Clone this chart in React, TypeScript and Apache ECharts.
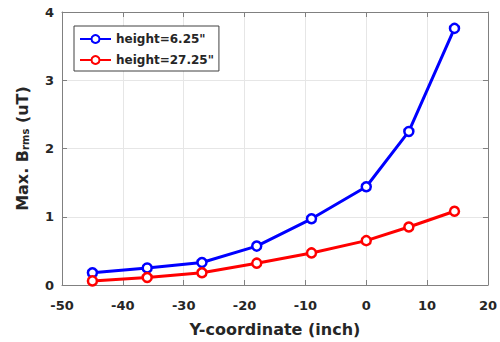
import React, { useEffect, useRef } from "react";
import * as echarts from "echarts";

const xValues = [-45, -36, -27, -18, -9, 0, 7, 14.5];
const blueValues = [0.18, 0.25, 0.33, 0.57, 0.97, 1.44, 2.25, 3.76];
const redValues = [0.06, 0.11, 0.18, 0.32, 0.47, 0.65, 0.85, 1.08];
const seriesNames = ['height=6.25"', 'height=27.25"'];

const FONT = "DejaVu Sans, sans-serif";
const TXT = "#262626";
const FRAME = "#808080";

export default function App() {
  const ref = useRef<HTMLDivElement>(null);
  useEffect(() => {
    if (!ref.current) return;
    const chart = echarts.init(ref.current, undefined, { renderer: "svg" });
    const mk = (vals: number[]) => xValues.map((x, i) => [x, vals[i]]);
    const axisCommon = {
      axisLine: { show: true, onZero: false, lineStyle: { color: FRAME, width: 1 } },
      axisTick: { show: true, inside: true, length: 5, lineStyle: { color: FRAME } },
    };
    chart.setOption({
      animation: false,
      backgroundColor: "#fff",
      textStyle: { fontFamily: FONT },
      grid: { left: 62, right: 12, top: 12, bottom: 57 },
      legend: {
        orient: "vertical",
        left: 74,
        top: 26,
        padding: [7, 5, 5, 5],
        itemGap: 9,
        itemWidth: 31,
        itemHeight: 10,
        borderColor: "#404040",
        borderWidth: 1,
        borderRadius: 0,
        backgroundColor: "#fff",
        textStyle: { fontFamily: FONT, fontWeight: "bold", fontSize: 12, color: TXT },
        data: seriesNames,
      },
      xAxis: [
        {
          type: "value",
          min: -50,
          max: 20,
          interval: 10,
          ...axisCommon,
          axisLabel: { color: TXT, fontWeight: "bold", fontSize: 13, fontFamily: FONT, margin: 14 },
          splitLine: { show: true, lineStyle: { color: "#e6e6e6" } },
          name: "Y-coordinate (inch)",
          nameLocation: "middle",
          nameGap: 36,
          nameTextStyle: { color: TXT, fontWeight: "bold", fontSize: 16, fontFamily: FONT },
        },
        {
          type: "value",
          position: "top",
          min: -50,
          max: 20,
          interval: 10,
          ...axisCommon,
          axisLabel: { show: false },
          splitLine: { show: false },
        },
      ],
      yAxis: [
        {
          type: "value",
          min: 0,
          max: 4,
          interval: 1,
          ...axisCommon,
          axisLabel: { color: TXT, fontWeight: "bold", fontSize: 13, fontFamily: FONT, margin: 8 },
          splitLine: { show: true, lineStyle: { color: "#e6e6e6" } },
          name: "{a|Max. B}{b|rms}{a| (uT)}",
          nameLocation: "middle",
          nameRotate: 90,
          nameGap: 32,
          nameTextStyle: {
            rich: {
              a: { color: TXT, fontWeight: "bold", fontSize: 16, fontFamily: FONT, lineHeight: 20, verticalAlign: "bottom" },
              b: { color: TXT, fontWeight: "bold", fontSize: 10, fontFamily: FONT, lineHeight: 20, verticalAlign: "bottom", padding: [9, 0, 0, 0] },
            },
          },
        },
        {
          type: "value",
          position: "right",
          min: 0,
          max: 4,
          interval: 1,
          ...axisCommon,
          axisLabel: { show: false },
          splitLine: { show: false },
        },
      ],
      series: [
        {
          name: seriesNames[0],
          type: "line",
          data: mk(blueValues),
          symbol: "circle",
          symbolSize: 9,
          lineStyle: { color: "#0000ff", width: 3 },
          itemStyle: { color: "#fff", borderColor: "#0000ff", borderWidth: 2.5 },
          color: "#0000ff",
        },
        {
          name: seriesNames[1],
          type: "line",
          data: mk(redValues),
          symbol: "circle",
          symbolSize: 9,
          lineStyle: { color: "#ff0000", width: 3 },
          itemStyle: { color: "#fff", borderColor: "#ff0000", borderWidth: 2.5 },
          color: "#ff0000",
        },
      ],
    });
    return () => chart.dispose();
  }, []);
  return <div ref={ref} style={{ width: 500, height: 342, position: "absolute", left: 0, top: 0 }} />;
}
